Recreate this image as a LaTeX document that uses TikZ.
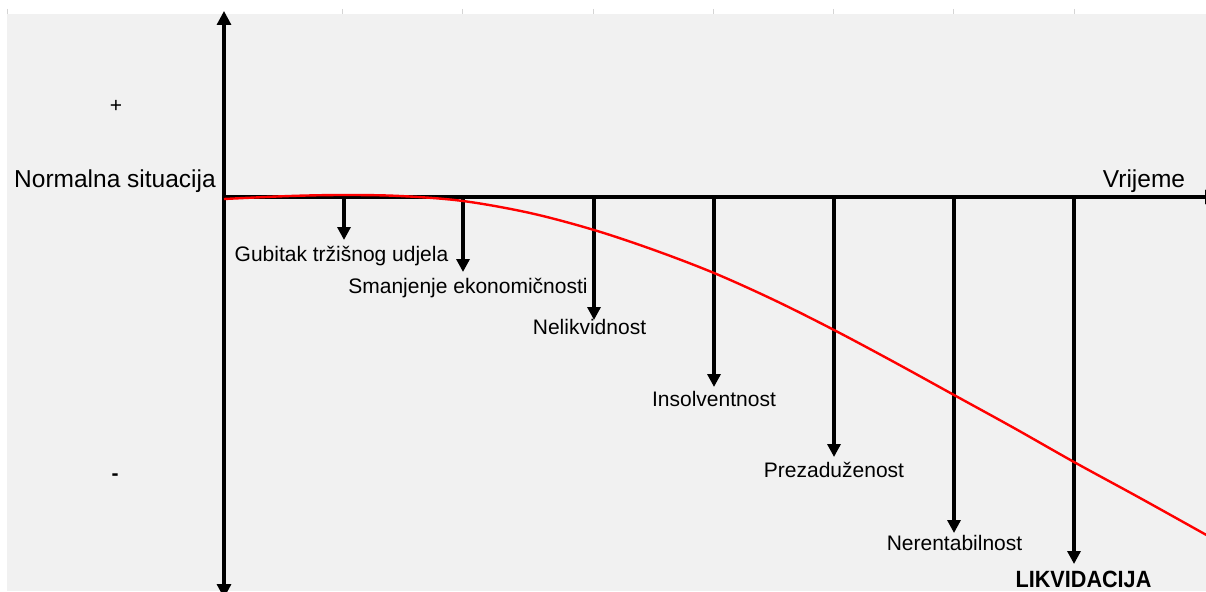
\documentclass[tikz,border=0pt]{standalone}
\usepackage{fontspec}
\setmainfont{Liberation Sans}
\usetikzlibrary{arrows.meta}
\definecolor{bg}{HTML}{F1F1F1}
\definecolor{tickc}{HTML}{D4D4D4}
\definecolor{curvec}{HTML}{FF0000}
\begin{document}
\begin{tikzpicture}[x=1pt,y=-1pt,
  axis/.style={line width=3.2pt, {Triangle[width=14pt,length=14pt]}-{Triangle[width=14pt,length=14pt]}},
  haxis/.style={line width=3.2pt, -{Triangle[width=14pt,length=14pt]}},
  drop/.style={line width=3.2pt, -{Triangle[width=13pt,length=13pt]}},
  lbl/.style={font=\fontsize{21}{25}\selectfont, anchor=base, inner sep=0pt},
  big/.style={font=\fontsize{24.5}{29}\selectfont, anchor=base, inner sep=0pt},
  fin/.style={font=\fontsize{23.5}{28}\selectfont\bfseries, anchor=base, inner sep=0pt},
  curve/.style={curvec, line width=2.4pt}]
\useasboundingbox (0,0) rectangle (1206,591);
\fill[white] (0,0) rectangle (1206,591);
\fill[bg] (7,14) rectangle (1206,591);
\foreach \x in {7,342,462,593,713,833,953,1074} \draw[tickc, line width=0.8pt] (\x,9) -- (\x,14);

% axes
\coordinate (vtop) at (224,11);
\coordinate (vbot) at (224,598);
\coordinate (orig) at (224,197);
\coordinate (hend) at (1219,197);
\draw[axis] (vbot) -- (vtop);
\draw[haxis] (orig) -- (hend);

% axis labels
\node[big] (normal) at (115,187) {Normalna situacija};
\node[big] (time) at (1144,187) {Vrijeme};
\node[lbl] (plus) at (116,113) {+};
\node[lbl, font=\fontsize{21}{25}\selectfont\bfseries] (minus) at (115,480) {-};

% drop arrows
\coordinate (s1) at (344,197); \coordinate (e1) at (344,240);
\coordinate (s2) at (463,197); \coordinate (e2) at (463,272);
\coordinate (s3) at (594,197); \coordinate (e3) at (594,320);
\coordinate (s4) at (714,197); \coordinate (e4) at (714,387);
\coordinate (s5) at (834,197); \coordinate (e5) at (834,457);
\coordinate (s6) at (954,197); \coordinate (e6) at (954,533);
\coordinate (s7) at (1074,197); \coordinate (e7) at (1074,564);
\foreach \i in {1,...,7} \draw[drop] (s\i) -- (e\i);

\node[lbl] (l1) at (341.5,261) {Gubitak tržišnog udjela};
\node[lbl] (l2) at (468,293) {Smanjenje ekonomičnosti};
\node[lbl] (l3) at (589.5,334) {Nelikvidnost};
\node[lbl] (l4) at (714,406) {Insolventnost};
\node[lbl] (l5) at (834,477) {Prezaduženost};
\node[lbl] (l6) at (954.5,550) {Nerentabilnost};
\node[fin] (l7) at (1083.5,587) {\scalebox{0.92}[1]{LIKVIDACIJA}};

% decline curve
\draw[curve] plot[smooth, tension=0.55] coordinates {(224,199) (290,196) (344,195) (400,196) (463,201) (530,213) (594,230) (654,250) (714,273) (774,300) (834,330) (894,362) (954,395) (1014,428) (1074,462) (1140,498) (1210,537)};
\end{tikzpicture}
\end{document}
